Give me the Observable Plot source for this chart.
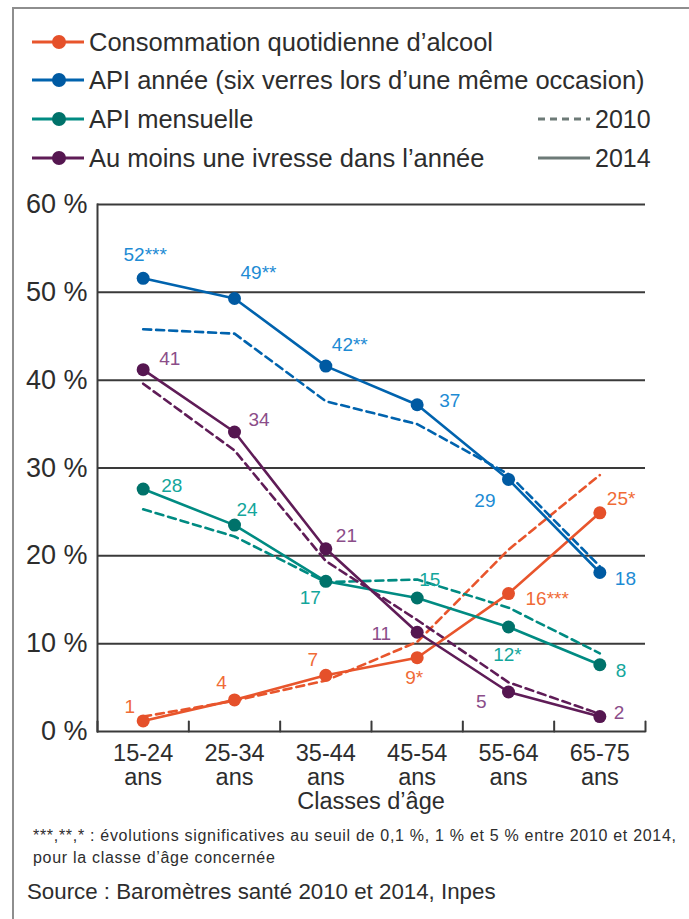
<!DOCTYPE html>
<html lang="fr">
<head>
<meta charset="utf-8">
<script src="https://cdn.jsdelivr.net/npm/d3@7"></script>
<script src="https://cdn.jsdelivr.net/npm/@observablehq/plot@0.6"></script>
<style>
  html, body { margin: 0; padding: 0; background: #fff; }
  #page { position: relative; width: 689px; height: 919px; overflow: hidden; font-family: "Liberation Sans", Arial, sans-serif; color: #2d2d2d; }
  #frame { position: absolute; left: 12px; top: 7px; right: -10px; bottom: -10px; border-top: 2px solid #8e8e8e; border-left: 2px solid #8e8e8e; }
  .leg { position: absolute; left: 32px; height: 30px; display: flex; align-items: center; font-size: 25.5px; white-space: nowrap; }
  .leg svg { margin-right: 5px; }
  .yr { position: absolute; left: 538px; height: 30px; display: flex; align-items: center; font-size: 25px; }
  .yr svg { margin-right: 3px; }
  #chart { position: absolute; left: 0; top: 190px; }
  #xlabel { position: absolute; left: 97px; width: 548px; top: 788px; text-align: center; font-size: 23.5px; }
  #note { position: absolute; left: 33px; top: 825px; font-size: 16px; letter-spacing: 0.7px; line-height: 22px; white-space: nowrap; }
  #source { position: absolute; left: 27px; top: 879px; font-size: 22.3px; white-space: nowrap; }
</style>
</head>
<body>
<div id="page">
  <div id="frame"></div>
  <div id="legend"></div>
  <div id="chart"></div>
  <div id="xlabel">Classes d’âge</div>
  <div id="note">***,**,* : évolutions significatives au seuil de 0,1 %, 1 % et 5 % entre 2010 et 2014,<br>pour la classe d’âge concernée</div>
  <div id="source">Source : Baromètres santé 2010 et 2014, Inpes</div>
</div>
<script>
// ---- Data ----
const ages = ["15-24", "25-34", "35-44", "45-54", "55-64", "65-75"];
const seriesNames = [
  "Consommation quotidienne d’alcool",
  "API année (six verres lors d’une même occasion)",
  "API mensuelle",
  "Au moins une ivresse dans l’année"
];
const years = ["2010", "2014"];

const conso2010    = [1.7, 3.5, 5.8, 10.2, 20.7, 29.2];
const conso2014    = [1.2, 3.6, 6.4, 8.4, 15.7, 24.9];
const apiAn2010    = [45.8, 45.3, 37.6, 35.0, 29.3, 18.8];
const apiAn2014    = [51.6, 49.3, 41.6, 37.2, 28.7, 18.1];
const apiMois2010  = [25.3, 22.2, 17.0, 17.3, 14.1, 8.9];
const apiMois2014  = [27.6, 23.5, 17.1, 15.2, 11.9, 7.6];
const ivresse2010  = [39.6, 32.0, 19.4, 12.7, 5.6, 2.0];
const ivresse2014  = [41.2, 34.1, 20.8, 11.3, 4.5, 1.7];

const consoLabels   = ["1", "4", "7", "9*", "16***", "25*"];
const apiAnLabels   = ["52***", "49**", "42**", "37", "29", "18"];
const apiMoisLabels = ["28", "24", "17", "15", "12*", "8"];
const ivresseLabels = ["41", "34", "21", "11", "5", "2"];

const yTicks = [0, 10, 20, 30, 40, 50, 60];

// ---- Styles ----
const lineColors  = ["#e8552c", "#0063ae", "#008b82", "#5f1c57"];
const dotColors   = ["#e5502a", "#005aa2", "#00726a", "#551650"];
const labelColors = ["#f06b36", "#1d8bd4", "#13a69b", "#8b4d89"];
// label placement [dx, dy, anchor] per series / age class
const placement = [
  [[-8,-14,"end"],[-13,-17,"middle"],[-13,-15,"middle"],[-3,20,"middle"],[17,5,"start"],[7,-14,"start"]],
  [[2,-23,"middle"],[6,-26,"start"],[6,-21,"start"],[22,-4,"start"],[-13,21,"end"],[15,6,"start"]],
  [[18,-3,"start"],[2,-15,"start"],[-5,17,"end"],[2,-18,"start"],[-1,28,"middle"],[16,6,"start"]],
  [[16,-11,"start"],[14,-12,"start"],[10,-13,"start"],[-26,2,"end"],[-22,10,"end"],[14,-4,"start"]]
];

const values2010 = [conso2010, apiAn2010, apiMois2010, ivresse2010];
const values2014 = [conso2014, apiAn2014, apiMois2014, ivresse2014];
const labels = [consoLabels, apiAnLabels, apiMoisLabels, ivresseLabels];

const rows2010 = [], rows2014 = [];
seriesNames.forEach((s, k) => {
  ages.forEach((a, i) => {
    rows2010.push({s: k, i, v: values2010[k][i]});
    rows2014.push({s: k, i, v: values2014[k][i], label: labels[k][i]});
  });
});

// ---- Legend (HTML) ----
const legend = document.getElementById("legend");
const rowTops = [27, 65, 104, 143];
seriesNames.forEach((name, k) => {
  const d = document.createElement("div");
  d.className = "leg";
  d.style.top = rowTops[k] + "px";
  d.innerHTML = `<svg width="52" height="16"><line x1="0" y1="8" x2="52" y2="8" stroke="${lineColors[k]}" stroke-width="3"/><circle cx="27" cy="8" r="7" fill="${dotColors[k]}"/></svg><span>${name}</span>`;
  legend.appendChild(d);
});
years.forEach((y, j) => {
  const d = document.createElement("div");
  d.className = "yr";
  d.style.top = rowTops[2 + j] + "px";
  d.innerHTML = `<svg width="54" height="16"><line x1="0" y1="8" x2="52" y2="8" stroke="#6d7a77" stroke-width="3" ${j === 0 ? 'stroke-dasharray="7,5"' : ''}/></svg><span>${y}</span>`;
  legend.appendChild(d);
});

// ---- Chart ----
const idx = ages.map((_, i) => i);
const bounds = idx.map(i => i - 0.5).concat([ages.length - 0.5]);
const tickShape = {draw(ctx, l) { ctx.moveTo(0, 0); ctx.lineTo(0, -l); }};

const labelMarks = rows2014.map(d => {
  const [dx, dy, anchor] = placement[d.s][d.i];
  return Plot.text([d], {x: "i", y: "v", text: "label", textAnchor: anchor, dx, dy,
    fill: labelColors[d.s], fontSize: 19});
});

const chart = Plot.plot({
  width: 689,
  height: 630,
  marginTop: 14,
  marginBottom: 89,
  marginLeft: 97,
  marginRight: 44,
  style: {fontFamily: "Liberation Sans, Arial, sans-serif", color: "#2d2d2d", background: "transparent", overflow: "visible"},
  x: {type: "linear", domain: [-0.5, ages.length - 0.5], label: null},
  y: {domain: [0, 60], label: null},
  color: {type: "ordinal", domain: [0, 1, 2, 3], range: lineColors},
  marks: [
    Plot.ruleY(yTicks, {stroke: "#3a3a3a", strokeWidth: 2}),
    Plot.frame({anchor: "left", stroke: "#3a3a3a", strokeWidth: 2}),
    Plot.vector(bounds, {x: d => d, y: () => 0, length: 10, anchor: "start", rotate: 0,
      shape: tickShape, stroke: "#3a3a3a", strokeWidth: 2}),
    Plot.axisX({ticks: idx, tickSize: 0, tickPadding: 13, tickFormat: i => ages[i] + "\nans",
      fontSize: 23.5, lineHeight: 1.0, fill: "#2d2d2d", label: null}),
    Plot.axisY({ticks: yTicks, tickSize: 0, tickPadding: 10, tickFormat: d => d + " %",
      fontSize: 27, fill: "#2d2d2d", label: null}),
    Plot.line(rows2010, {x: "i", y: "v", z: "s", stroke: d => d.s, strokeWidth: 2.6, strokeDasharray: "8,5"}),
    Plot.line(rows2014, {x: "i", y: "v", z: "s", stroke: d => d.s, strokeWidth: 2.6}),
    Plot.dot(rows2014, {x: "i", y: "v", r: 6.5, fill: d => dotColors[d.s], stroke: "none"}),
    ...labelMarks
  ]
});
document.getElementById("chart").appendChild(chart);
</script>
</body>
</html>
